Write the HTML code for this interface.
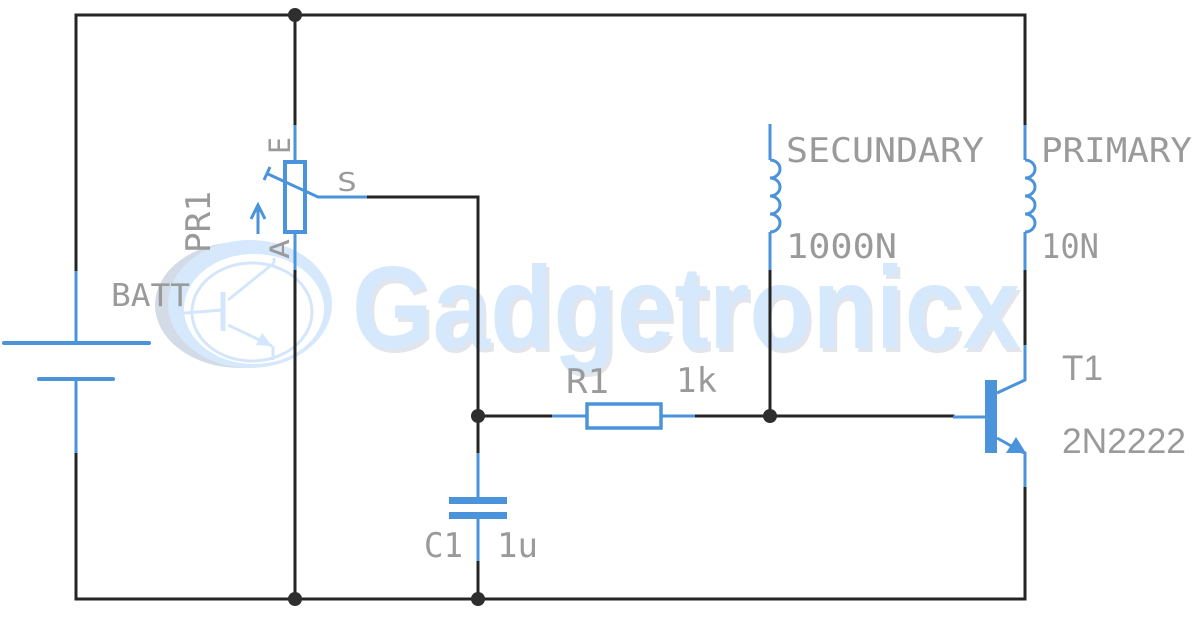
<!DOCTYPE html>
<html><head><meta charset="utf-8"><style>
html,body{margin:0;padding:0;background:#fff;}
svg{display:block;}
.m{font-family:"DejaVu Sans Mono","Liberation Mono",monospace;font-size:34px;fill:#9a9a9a;}
.s{font-family:"Liberation Sans",sans-serif;font-size:35px;fill:#9a9a9a;}
</style></head><body>
<svg width="1200" height="626" viewBox="0 0 1200 626" xmlns="http://www.w3.org/2000/svg">
<!-- watermark logo -->
<g>
  <ellipse cx="240" cy="305" rx="85" ry="63" fill="#d3dbe6"/>
  <ellipse cx="250" cy="304" rx="82" ry="64" fill="#d6e8fb"/>
  <ellipse cx="254" cy="309" rx="70" ry="55" fill="#fff"/>
  <ellipse cx="252" cy="312" rx="60" ry="49" fill="none" stroke="#d4e6fb" stroke-width="3"/>
  <line x1="173" y1="314" x2="222" y2="310" stroke="#d4e6fb" stroke-width="3"/>
  <line x1="223" y1="292" x2="223" y2="331" stroke="#d4e6fb" stroke-width="5"/>
  <line x1="228" y1="300" x2="274" y2="263" stroke="#d4e6fb" stroke-width="3"/>
  <line x1="228" y1="325" x2="272" y2="346" stroke="#d4e6fb" stroke-width="3"/>
  <polygon points="272,346 256,345 262,333" fill="#d4e6fb"/>
  <line x1="274" y1="258" x2="274" y2="263" stroke="#d4e6fb" stroke-width="3"/>
  <line x1="273" y1="346" x2="273" y2="360" stroke="#d4e6fb" stroke-width="3"/>
</g>
<text x="352" y="348" textLength="668" lengthAdjust="spacingAndGlyphs" font-family="'Liberation Sans Narrow','Liberation Sans',sans-serif" font-weight="bold" font-size="117" fill="#e2e6ec" transform="translate(3,4)">Gadgetronicx</text>
<text x="352" y="348" textLength="668" lengthAdjust="spacingAndGlyphs" font-family="'Liberation Sans Narrow','Liberation Sans',sans-serif" font-weight="bold" font-size="117" fill="#d6e8fc">Gadgetronicx</text>

<!-- black wires -->
<g stroke="#252525" stroke-width="3" fill="none" stroke-linecap="square">
  <polyline points="76,271 76,15 1025,15 1025,125"/>
  <line x1="76" y1="453" x2="76" y2="599"/>
  <line x1="76" y1="599" x2="1025" y2="599"/>
  <line x1="295" y1="15" x2="295" y2="125"/>
  <line x1="295" y1="270" x2="295" y2="599"/>
  <polyline points="367,197 478,197 478,453"/>
  <line x1="478" y1="561" x2="478" y2="599"/>
  <line x1="478" y1="416" x2="552" y2="416"/>
  <line x1="695" y1="416" x2="953" y2="416"/>
  <line x1="770" y1="270" x2="770" y2="416"/>
  <line x1="1025" y1="270" x2="1025" y2="345"/>
  <line x1="1025" y1="487" x2="1025" y2="599"/>
</g>
<!-- dots -->
<g fill="#2e2e2e">
  <circle cx="295" cy="15" r="7"/>
  <circle cx="295" cy="599" r="7"/>
  <circle cx="478" cy="599" r="7"/>
  <circle cx="478" cy="416" r="7"/>
  <circle cx="770" cy="416" r="7"/>
</g>

<!-- blue components -->
<g stroke="#4b93da" fill="none" stroke-width="3">
  <!-- battery -->
  <line x1="76" y1="271" x2="76" y2="343"/>
  <line x1="4" y1="343" x2="149" y2="343" stroke-width="4" stroke-linecap="round"/>
  <line x1="39" y1="379" x2="113" y2="379" stroke-width="4" stroke-linecap="round"/>
  <line x1="76" y1="379" x2="76" y2="453"/>
  <!-- pot -->
  <line x1="295" y1="125" x2="295" y2="161"/>
  <rect x="285" y="162" width="20" height="70" stroke-width="4"/>
  <line x1="295" y1="233" x2="295" y2="270"/>
  <polyline points="268,174 318,197 367,197"/>
  <line x1="264" y1="180" x2="270" y2="167"/>
  <line x1="258" y1="234" x2="258" y2="205"/>
  <polyline points="251,219 258,205 265,219"/>
  <!-- resistor -->
  <line x1="552" y1="416" x2="587" y2="416"/>
  <rect x="587" y="404" width="74" height="24" stroke-width="3.5"/>
  <line x1="661" y1="416" x2="695" y2="416"/>
  <!-- capacitor -->
  <line x1="478" y1="453" x2="478" y2="497"/>
  <line x1="478" y1="519" x2="478" y2="561"/>
  <!-- secondary coil -->
  <line x1="770" y1="124" x2="770" y2="160"/>
  <path d="M770 160 a10 9 0 0 1 0 18 a10 9 0 0 1 0 18 a10 9 0 0 1 0 18 a10 9 0 0 1 0 18"/>
  <line x1="770" y1="232" x2="770" y2="270"/>
  <!-- primary coil -->
  <line x1="1025" y1="125" x2="1025" y2="160"/>
  <path d="M1025 160 a10 9 0 0 1 0 18 a10 9 0 0 1 0 18 a10 9 0 0 1 0 18 a10 9 0 0 1 0 18"/>
  <line x1="1025" y1="232" x2="1025" y2="270"/>
  <!-- transistor -->
  <line x1="953" y1="417" x2="986" y2="417"/>
  <polyline points="997,393 1025,380 1025,345"/>
  <polyline points="997,438 1022,452 1025,453 1025,487"/>
</g>
<g fill="#4b93da">
  <rect x="449" y="497" width="58" height="7"/>
  <rect x="449" y="512" width="58" height="7"/>
  <rect x="985" y="380" width="12" height="73"/>
  <polygon points="1006,453 1016,437 1026,453"/>
</g>

<!-- labels -->
<text class="m" x="111" y="306" textLength="79" lengthAdjust="spacingAndGlyphs" style="font-size:31px">BATT</text>
<text class="m" transform="translate(210,253) rotate(-90)" textLength="62" lengthAdjust="spacingAndGlyphs">PR1</text>
<text class="m" transform="translate(290,154) rotate(-90)" textLength="17" lengthAdjust="spacingAndGlyphs" style="font-size:29px">E</text>
<text class="m" transform="translate(289,259) rotate(-90)" textLength="20" lengthAdjust="spacingAndGlyphs" style="font-size:27px">A</text>
<text class="m" x="337" y="191" textLength="20" lengthAdjust="spacingAndGlyphs" style="font-size:26px">S</text>
<text class="m" x="786" y="162" textLength="198" lengthAdjust="spacingAndGlyphs">SECUNDARY</text>
<text class="m" x="1041" y="162" textLength="151" lengthAdjust="spacingAndGlyphs">PRIMARY</text>
<text class="m" x="786" y="258" textLength="111" lengthAdjust="spacingAndGlyphs">1000N</text>
<text class="m" x="1041" y="258" textLength="58" lengthAdjust="spacingAndGlyphs">10N</text>
<text class="m" x="566" y="393" textLength="43" lengthAdjust="spacingAndGlyphs">R1</text>
<text class="m" x="676" y="392" textLength="41" lengthAdjust="spacingAndGlyphs">1k</text>
<text class="m" x="424" y="557" textLength="39" lengthAdjust="spacingAndGlyphs">C1</text>
<text class="m" x="497" y="557" textLength="41" lengthAdjust="spacingAndGlyphs">1u</text>
<text class="s" x="1062" y="380" textLength="41" lengthAdjust="spacingAndGlyphs">T1</text>
<text class="s" x="1062" y="453" textLength="124" lengthAdjust="spacingAndGlyphs">2N2222</text>
</svg>
</body></html>
